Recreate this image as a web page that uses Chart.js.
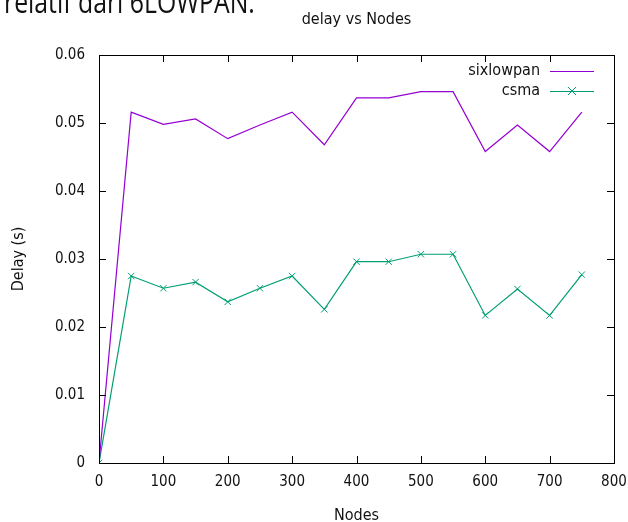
<!DOCTYPE html>
<html>
<head>
<meta charset="utf-8">
<script src="https://cdn.jsdelivr.net/npm/chart.js@4.4.0/dist/chart.umd.min.js"></script>
<style>
  html, body { margin: 0; padding: 0; background: #fff; }
  #wrap { position: relative; width: 628px; height: 522px; overflow: hidden; }
  #doc { position: absolute; left: 4px; top: -20px; font: 31px "Open Sans", sans-serif; color: #111; white-space: nowrap; transform: scaleX(0.8); transform-origin: left top; }
  canvas { position: absolute; left: 0; top: 0; }
</style>
</head>
<body>
<div id="wrap">
  <canvas id="c" width="628" height="522"></canvas>
  <div id="doc">relatif dari 6LOWPAN.</div>
</div>
<script>
const nodes = [0, 50, 100, 150, 200, 250, 300, 350, 400, 450, 500, 550, 600, 650, 700, 750];
const sixlowpan = [0, 0.0516, 0.0498, 0.0506, 0.0477, 0.0497, 0.0516, 0.0468, 0.0537, 0.0537, 0.0546, 0.0546, 0.0458, 0.0497, 0.0458, 0.0516];
const csma = [0, 0.0275, 0.0257, 0.0266, 0.0237, 0.0257, 0.0275, 0.0226, 0.0296, 0.0296, 0.0307, 0.0307, 0.0217, 0.0256, 0.0217, 0.0277];
const xTicks = [0, 100, 200, 300, 400, 500, 600, 700, 800];
const yTicks = [0, 0.01, 0.02, 0.03, 0.04, 0.05, 0.06];

const FONT = '"Liberation Sans Narrow", "DejaVu Sans Condensed", sans-serif';
const PURPLE = "#9400d3";
const GREEN = "#009e73";

// gnuplot style frame: border + inward ticks on all four sides, title, legend
const frame = {
  id: "frame",
  afterDraw(chart) {
    const { ctx, chartArea: a, scales } = chart;
    ctx.save();
    ctx.strokeStyle = "#000";
    ctx.lineWidth = 1;
    ctx.beginPath();
    xTicks.forEach(v => {
      const x = Math.round(scales.x.getPixelForValue(v)) + 0.5;
      ctx.moveTo(x, a.bottom); ctx.lineTo(x, a.bottom - 7);
      ctx.moveTo(x, a.top); ctx.lineTo(x, a.top + 7);
    });
    yTicks.forEach(v => {
      const y = Math.round(scales.y.getPixelForValue(v)) + 0.5;
      ctx.moveTo(a.left, y); ctx.lineTo(a.left + 7, y);
      ctx.moveTo(a.right, y); ctx.lineTo(a.right - 7, y);
    });
    ctx.stroke();
    ctx.strokeRect(Math.round(a.left) + 0.5, Math.round(a.top) + 0.5,
      Math.round(a.right - a.left), Math.round(a.bottom - a.top));

    ctx.fillStyle = "#111";
    ctx.font = "16px " + FONT;
    ctx.textAlign = "center";
    ctx.textBaseline = "middle";
    ctx.fillText("delay vs Nodes", (a.left + a.right) / 2, 20);

    // legend
    const items = [
      { label: "sixlowpan", color: PURPLE, marker: false },
      { label: "csma", color: GREEN, marker: true }
    ];
    items.forEach((it, i) => {
      const y = a.top + 16 + i * 20;
      ctx.fillStyle = "#111";
      ctx.textAlign = "right";
      ctx.fillText(it.label, a.right - 74, y);
      ctx.strokeStyle = it.color;
      ctx.beginPath();
      ctx.moveTo(a.right - 64, y + 0.5);
      ctx.lineTo(a.right - 20, y + 0.5);
      ctx.stroke();
      if (it.marker) {
        const cx = a.right - 42, r = 4;
        ctx.beginPath();
        ctx.moveTo(cx - r, y - r); ctx.lineTo(cx + r, y + r);
        ctx.moveTo(cx - r, y + r); ctx.lineTo(cx + r, y - r);
        ctx.stroke();
      }
    });
    ctx.restore();
  }
};

new Chart(document.getElementById("c"), {
  type: "line",
  data: {
    datasets: [
      {
        label: "sixlowpan",
        data: nodes.map((n, i) => ({ x: n, y: sixlowpan[i] })),
        borderColor: PURPLE,
        borderWidth: 1.2,
        pointRadius: 0,
        tension: 0
      },
      {
        label: "csma",
        data: nodes.map((n, i) => ({ x: n, y: csma[i] })),
        borderColor: GREEN,
        borderWidth: 1.2,
        pointStyle: "crossRot",
        pointRadius: 4.5,
        pointBorderWidth: 1,
        pointBorderColor: GREEN,
        tension: 0
      }
    ]
  },
  options: {
    responsive: false,
    animation: false,
    layout: { padding: { top: 55, right: 14, left: 0, bottom: 0 } },
    plugins: {
      legend: { display: false },
      title: { display: false },
      tooltip: { enabled: false }
    },
    scales: {
      x: {
        type: "linear",
        min: 0, max: 800,
        afterBuildTicks: s => { s.ticks = xTicks.map(v => ({ value: v })); },
        afterFit: s => { s.height = 59; s.paddingRight = 0; s.paddingLeft = 0; },
        grid: { display: false, drawTicks: false },
        border: { display: false },
        ticks: { padding: 10, color: "#111", font: { family: FONT, size: 15 } },
        title: { display: true, text: "Nodes", color: "#111", padding: { top: 0, bottom: -3 }, font: { family: FONT, size: 16 } }
      },
      y: {
        type: "linear",
        min: 0, max: 0.06,
        afterBuildTicks: s => { s.ticks = yTicks.map(v => ({ value: v })); },
        afterFit: s => { s.width = 99; s.paddingTop = 0; s.paddingBottom = 0; },
        grid: { display: false, drawTicks: false },
        border: { display: false },
        ticks: {
          padding: 14, color: "#111", font: { family: FONT, size: 15 },
          callback: v => v === 0 ? "0" : v.toFixed(2)
        },
        title: { display: true, text: "Delay (s)", color: "#111", padding: { top: 9, bottom: 0 }, font: { family: FONT, size: 16 } }
      }
    }
  },
  plugins: [frame]
});
</script>
</body>
</html>
